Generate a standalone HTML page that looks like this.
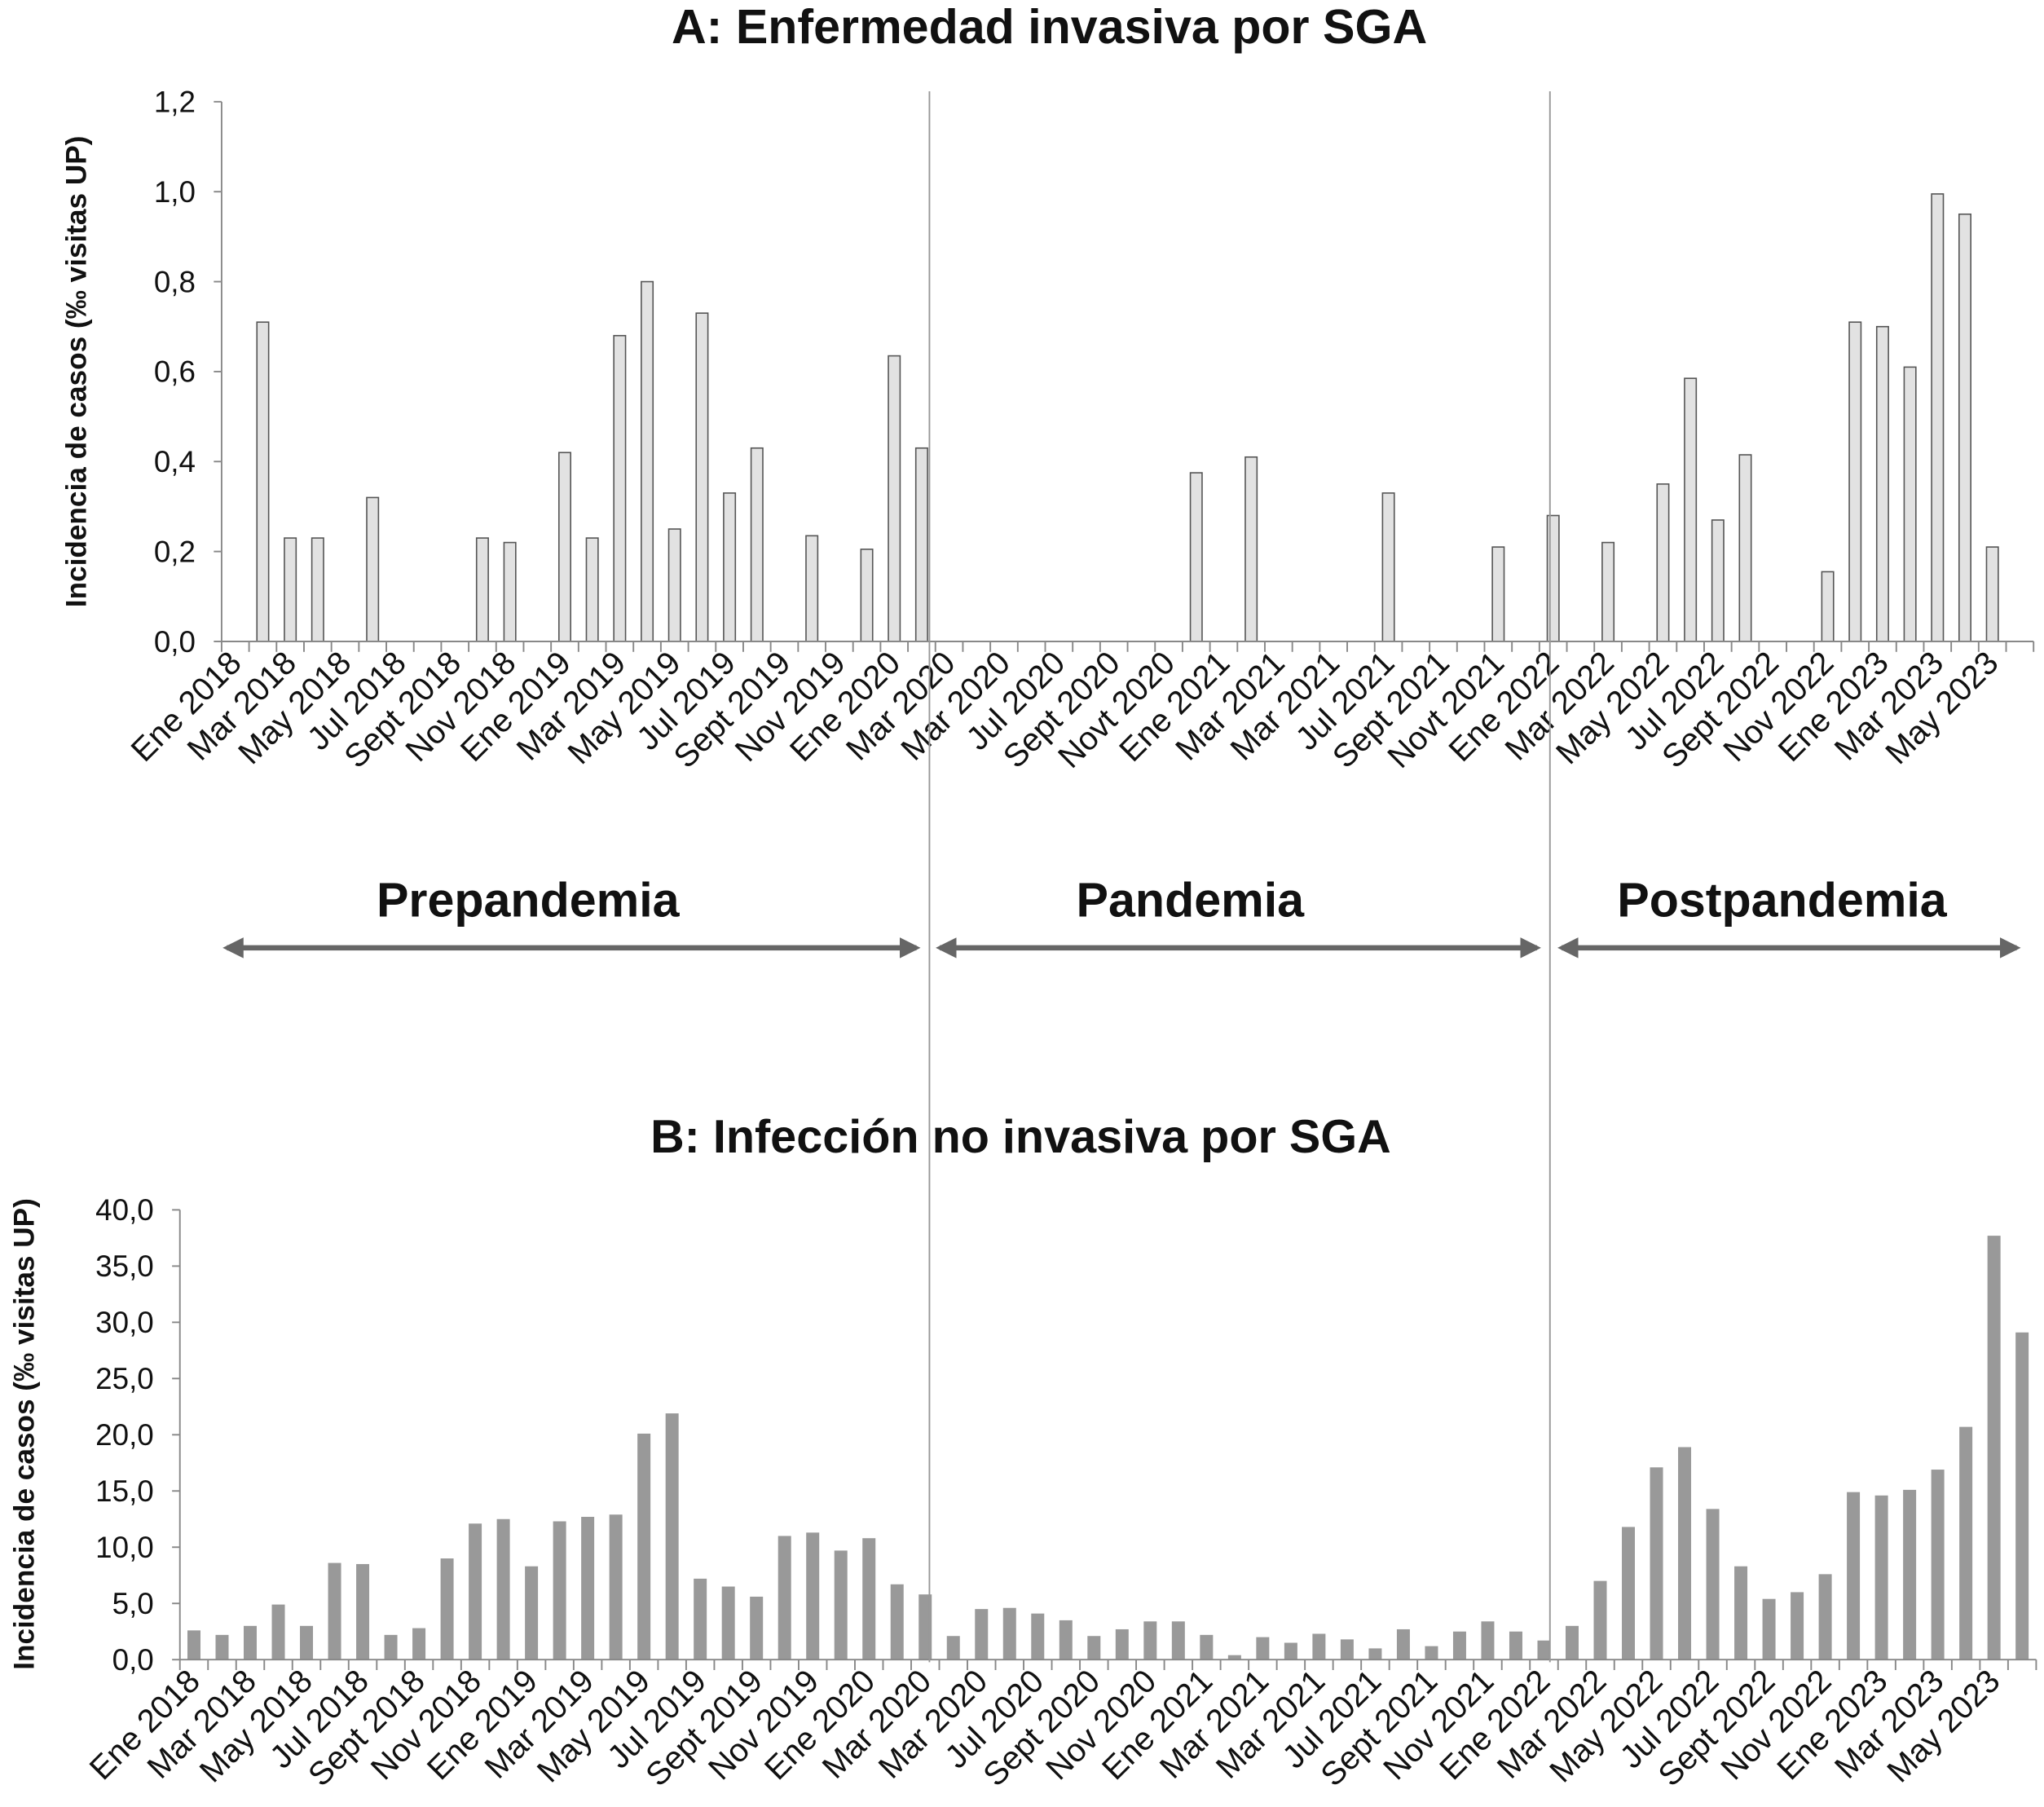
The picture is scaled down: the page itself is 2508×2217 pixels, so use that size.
<!DOCTYPE html>
<html><head><meta charset="utf-8"><style>
html,body{margin:0;padding:0;background:#fff}
svg{display:block;font-family:"Liberation Sans",Arial,sans-serif}
</style></head><body>
<svg id="s" width="2508" height="2217" viewBox="0 0 1568 1386" xmlns="http://www.w3.org/2000/svg">
<defs><marker id="ah" viewBox="0 0 10 10" refX="8" refY="5" markerWidth="4" markerHeight="4" orient="auto-start-reverse"><path d="M0,0L10,5L0,10z" fill="#666"/></marker></defs>
<g id="gA"></g>
<g id="gB"></g>
<g id="gM"></g>
</svg>
<script>
const labelsA = ["Ene 2018","Mar 2018","May 2018","Jul 2018","Sept 2018","Nov 2018","Ene 2019","Mar 2019","May 2019","Jul 2019","Sept 2019","Nov 2019","Ene 2020","Mar 2020","Mar 2020","Jul 2020","Sept 2020","Novt 2020","Ene 2021","Mar 2021","Mar 2021","Jul 2021","Sept 2021","Novt 2021","Ene 2022","Mar 2022","May 2022","Jul 2022","Sept 2022","Nov 2022","Ene 2023","Mar 2023","May 2023"];
const labelsB = ["Ene 2018","Mar 2018","May 2018","Jul 2018","Sept 2018","Nov 2018","Ene 2019","Mar 2019","May 2019","Jul 2019","Sept 2019","Nov 2019","Ene 2020","Mar 2020","Mar 2020","Jul 2020","Sept 2020","Nov 2020","Ene 2021","Mar 2021","Mar 2021","Jul 2021","Sept 2021","Nov 2021","Ene 2022","Mar 2022","May 2022","Jul 2022","Sept 2022","Nov 2022","Ene 2023","Mar 2023","May 2023"];
const valuesA = [0,0.71,0.23,0.23,0,0.32,0,0,0,0.23,0.22,0,0.42,0.23,0.68,0.80,0.25,0.73,0.33,0.43,0,0.235,0,0.205,0.635,0.43,
0,0,0,0,0,0,0,0,0,0.375,0,0.41,0,0,0,0,0.33,0,0,0,0.21,0,0.28,0,0.22,0,0.35,0.585,0.27,0.415,0,0,0.155,0.71,0.70,0.61,0.995,0.95,0.21,0];
const valuesB = [2.6,2.2,3.0,4.9,3.0,8.6,8.5,2.2,2.8,9.0,12.1,12.5,8.3,12.3,12.7,12.9,20.1,21.9,7.2,6.5,5.6,11.0,11.3,9.7,10.8,6.7,5.8,
2.1,4.5,4.6,4.1,3.5,2.1,2.7,3.4,3.4,2.2,0.4,2.0,1.5,2.3,1.8,1.0,2.7,1.2,2.5,3.4,2.5,1.7,
3.0,7.0,11.8,17.1,18.9,13.4,8.3,5.4,6.0,7.6,14.9,14.6,15.1,16.9,20.7,37.7,29.1];
const ticksA = [0,0.2,0.4,0.6,0.8,1.0,1.2];
const ticksB = [0,5,10,15,20,25,30,35,40];

const NS="http://www.w3.org/2000/svg";
function mk(p,t,a,txt){const e=document.createElementNS(NS,t);for(const k in a)e.setAttribute(k,a[k]);if(txt!=null)e.textContent=txt;p.appendChild(e);return e;}

function chart(g,o){
  const n=o.values.length, cw=(o.x1-o.x0)/n;
  const xs=i=>o.x0+cw*(i+0.5);
  const ys=v=>o.y0-(v/o.max)*(o.y0-o.y1);
  let ax=mk(g,'line',{x1:o.x0,y1:o.y1,x2:o.x0,y2:o.y0,stroke:'#888','stroke-width':1.2});
  
  
  o.ticks.forEach(t=>{
    mk(g,'line',{x1:o.x0-6,x2:o.x0,y1:ys(t),y2:ys(t),stroke:'#888','stroke-width':1.2});
    let tl=mk(g,'text',{x:o.x0-20,y:ys(t)+8,'text-anchor':'end','font-size':23,fill:'#111'},t.toFixed(1).replace('.',','));
    
    
  });
  o.values.forEach((v,i)=>{
    if(v<=0)return;
    let b=mk(g,'rect',{x:xs(i)-o.bw/2,y:ys(v),width:o.bw,height:o.y0-ys(v),fill:o.fill,stroke:o.stroke,'stroke-width':o.sw});
    
    
  });
  let xa=mk(g,'line',{x1:o.x0,y1:o.y0,x2:o.x1,y2:o.y0,stroke:'#888','stroke-width':1.2});
  
  
  for(let i=0;i<=n;i++){const x=o.x0+cw*i;mk(g,'line',{x1:x,x2:x,y1:o.y0,y2:o.y0+8,stroke:'#888','stroke-width':1.2});}
  o.labels.forEach((l,j)=>{
    const x=xs(2*j)+6, y=o.y0+18;
    let t=mk(g,'text',{x:x,y:y,'text-anchor':'end','font-size':25,fill:'#111',transform:`rotate(-45 ${x} ${y})`},l);
    
    
  });
}
const gA=document.getElementById('gA'),gB=document.getElementById('gB'),gM=document.getElementById('gM');
chart(gA,{x0:170,x1:1560,y0:492,y1:78,max:1.2,values:valuesA,labels:labelsA,ticks:ticksA,bw:9,fill:'#e2e2e2',stroke:'#555',sw:1});
chart(gB,{x0:138,x1:1562,y0:1273,y1:928,max:40,values:valuesB,labels:labelsB,ticks:ticksB,bw:10,fill:'#999',stroke:'none',sw:0});

let t;
t=mk(gA,'text',{x:805,y:33,'text-anchor':'middle','font-size':37,'font-weight':'bold',fill:'#111'},'A:  Enfermedad invasiva por SGA');


t=mk(gA,'text',{x:0,y:0,'text-anchor':'middle','font-size':22,'font-weight':'bold',fill:'#111',transform:'translate(66 285) rotate(-90)'},'Incidencia de casos (‰ visitas UP)');


t=mk(gB,'text',{x:783,y:884,'text-anchor':'middle','font-size':36,'font-weight':'bold',fill:'#111'},'B: Infección no invasiva por SGA');


t=mk(gB,'text',{x:0,y:0,'text-anchor':'middle','font-size':22,'font-weight':'bold',fill:'#111',transform:'translate(26 1100) rotate(-90)'},'Incidencia de casos (‰ visitas UP)');



[713,1189].forEach(x=>{
  let l=mk(gM,'line',{x1:x,x2:x,y1:70,y2:1275,stroke:'#999','stroke-width':1.2});
  
  
});
[[166,711,405,'Prepandemia'],[713,1187,913,'Pandemia'],[1190,1555,1367,'Postpandemia']].forEach(p=>{
  let a=mk(gM,'line',{x1:p[0]+8,x2:p[1]-8,y1:727,y2:727,stroke:'#666','stroke-width':4,'marker-start':'url(#ah)','marker-end':'url(#ah)'});
  
  
  let tx=mk(gM,'text',{x:p[2],y:703,'text-anchor':'middle','font-size':37,'font-weight':'bold',fill:'#111'},p[3]);
  
  
});
</script>
</body></html>
